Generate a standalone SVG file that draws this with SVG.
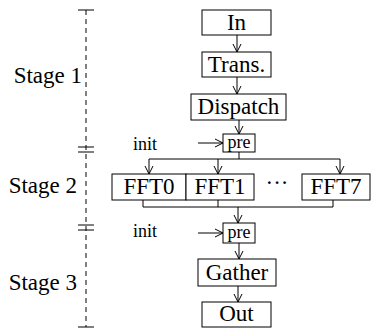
<svg xmlns="http://www.w3.org/2000/svg" width="371" height="328" viewBox="0 0 371 328" font-family="'Liberation Serif', 'Times New Roman', serif">
<style>
.box{fill:#fff;stroke:#000;stroke-width:1}
.lbl{font-size:23px;fill:#000;text-anchor:middle}
.sm{font-size:18px;fill:#000}
.stage{font-size:23px;fill:#000;text-anchor:end}
.ln{fill:none;stroke:#000;stroke-width:1}
.ar{fill:none;stroke:#000;stroke-width:1;marker-end:url(#arr)}
.axis{fill:none;stroke:#000;stroke-width:1;stroke-dasharray:5 4}
</style>
<defs>
<marker id="arr" viewBox="0 0 10 10" refX="10" refY="5" markerWidth="10" markerHeight="10" markerUnits="userSpaceOnUse" orient="auto">
<path d="M2,1 L10,5 L2,9" fill="none" stroke="#000" stroke-width="1"/>
</marker>
</defs>

<g id="axis">
<line class="axis" x1="86" y1="10" x2="86" y2="327"/>
<line class="ln" x1="78" y1="10" x2="94" y2="10"/>
<line class="ln" x1="78" y1="147" x2="94" y2="147"/>
<line class="ln" x1="78" y1="152" x2="94" y2="152"/>
<line class="ln" x1="78" y1="225" x2="94" y2="225"/>
<line class="ln" x1="78" y1="230" x2="94" y2="230"/>
<line class="ln" x1="78" y1="327" x2="94" y2="327"/>
<text class="stage" x="82" y="83">Stage 1</text>
<text class="stage" x="77" y="193">Stage 2</text>
<text class="stage" x="77" y="290">Stage 3</text>
</g>

<g id="connectors">
<line class="ar" x1="237" y1="35" x2="237" y2="52"/>
<line class="ar" x1="237" y1="77" x2="237" y2="94"/>
<line class="ar" x1="239" y1="120" x2="239" y2="134"/>
<line class="ar" x1="198" y1="143" x2="223" y2="143"/>
<polyline class="ln" points="239,152 239,159"/>
<line class="ln" x1="149" y1="159" x2="340" y2="159"/>
<line class="ar" x1="149" y1="159" x2="149" y2="174"/>
<line class="ar" x1="218" y1="159" x2="218" y2="174"/>
<line class="ar" x1="340" y1="159" x2="340" y2="174"/>
<line class="ln" x1="143" y1="200" x2="143" y2="207"/>
<line class="ln" x1="218" y1="200" x2="218" y2="207"/>
<line class="ln" x1="333" y1="200" x2="333" y2="207"/>
<line class="ln" x1="143" y1="207" x2="333" y2="207"/>
<line class="ar" x1="238" y1="207" x2="238" y2="223"/>
<line class="ar" x1="198" y1="233" x2="223" y2="233"/>
<line class="ar" x1="239" y1="243" x2="239" y2="259"/>
<line class="ar" x1="238" y1="286" x2="238" y2="302"/>
</g>

<g id="in"><rect class="box" x="202" y="10" width="69" height="25"/><text class="lbl" x="236.5" y="30">In</text></g>
<g id="trans"><rect class="box" x="202" y="52" width="69" height="25"/><text class="lbl" x="236.5" y="72">Trans.</text></g>
<g id="dispatch"><rect class="box" x="191" y="94" width="95" height="26"/><text class="lbl" x="238.5" y="114">Dispatch</text></g>
<g id="init1"><text class="sm" x="133" y="150">init</text></g>
<g id="pre1"><rect class="box" x="223" y="134" width="32" height="18"/><text class="sm" x="239" y="148" text-anchor="middle">pre</text></g>
<g id="fft0"><rect class="box" x="112" y="174" width="74" height="26"/><text class="lbl" x="149" y="194">FFT0</text></g>
<g id="fft1"><rect class="box" x="186" y="174" width="68" height="26"/><text class="lbl" x="220" y="194">FFT1</text></g>
<g id="dots"><text class="lbl" x="277" y="190">···</text></g>
<g id="fft7"><rect class="box" x="302" y="174" width="68" height="26"/><text class="lbl" x="336" y="194">FFT7</text></g>
<g id="init2"><text class="sm" x="133" y="237">init</text></g>
<g id="pre2"><rect class="box" x="223" y="223" width="32" height="20"/><text class="sm" x="239" y="238" text-anchor="middle">pre</text></g>
<g id="gather"><rect class="box" x="198" y="259" width="78" height="27"/><text class="lbl" x="237" y="280">Gather</text></g>
<g id="out"><rect class="box" x="202" y="302" width="69" height="25"/><text class="lbl" x="236.5" y="321">Out</text></g>
</svg>
